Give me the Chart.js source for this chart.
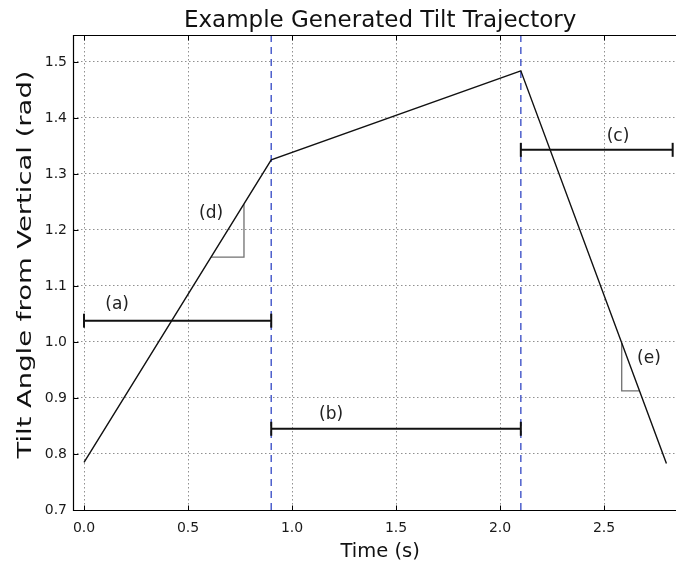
<!DOCTYPE html>
<html><head><meta charset="utf-8">
<script src="https://cdn.jsdelivr.net/npm/chart.js@4/dist/chart.umd.min.js"></script>
<style>html,body{margin:0;padding:0;background:#fff}canvas{display:block}</style>
</head><body><canvas id="c" width="676" height="563"></canvas>
<script>
// ---- data ----
const times = [0.0, 0.9, 2.1, 2.8];
const tilt = [0.785, 1.325, 1.484, 0.783];
const phaseBoundaries = [0.9, 2.1];
const xTicks = [0.0, 0.5, 1.0, 1.5, 2.0, 2.5];
const yTicks = [0.7, 0.8, 0.9, 1.0, 1.1, 1.2, 1.3, 1.4, 1.5];
const xFullRange = [-0.053, 2.9];   // axes extend past the picture's right edge
const xVisibleMax = 2.846;
const yRange = [0.7, 1.548];
const intervalLabels = ['(a)', '(b)', '(c)'];
const intervalStart = [0.0, 0.9, 2.1];
const intervalEnd = [0.9, 2.1, 2.83];
const intervalLevel = [1.038, 0.845, 1.343];
const intervalLabelX = [0.159, 1.188, 2.567];
const intervalLabelY = [1.066, 0.870, 1.366];
const slopeLabels = ['(d)', '(e)'];
const slopeTriX = [[0.611, 0.769, 0.769], [2.585, 2.585, 2.67]];
const slopeTriY = [[1.1516, 1.1516, 1.246], [0.998, 0.9125, 0.9125]];
const slopeLabelX = [0.611, 2.716];
const slopeLabelY = [1.230, 0.970];
const titleText = 'Example Generated Tilt Trajectory';
const xTitleText = 'Time (s)';
const yTitleText = 'Tilt Angle from Vertical (rad)';

const FONT = "'DejaVu Sans', sans-serif";
const datasets = [];

phaseBoundaries.forEach(b => datasets.push({
  data: [{x: b, y: yRange[0]}, {x: b, y: yRange[1]}],
  showLine: true, borderColor: '#4d5fcc', borderWidth: 1.5, borderDash: [7, 5],
  pointRadius: 0, order: 5
}));
slopeTriX.forEach((xs, i) => datasets.push({
  data: xs.map((x, j) => ({x, y: slopeTriY[i][j]})),
  showLine: true, borderColor: '#707070', borderWidth: 1.3,
  pointRadius: 0, order: 4
}));
intervalStart.forEach((s, i) => datasets.push({
  data: [{x: s, y: intervalLevel[i]}, {x: intervalEnd[i], y: intervalLevel[i]}],
  showLine: true, borderColor: '#111', borderWidth: 2,
  pointStyle: 'line', pointRotation: 90, pointRadius: 7,
  pointBorderColor: '#111', pointBorderWidth: 2, order: 3
}));
datasets.push({
  data: times.map((t, i) => ({x: t, y: tilt[i]})),
  showLine: true, borderColor: '#111', borderWidth: 1.4,
  pointRadius: 0, order: 1
});

const annotPlugin = {
  id: 'annot',
  afterDatasetsDraw(chart) {
    const {ctx, chartArea: a, scales: {x, y}} = chart;
    ctx.save();
    // frame (left, top, bottom; right edge lies outside the picture)
    const L = Math.round(a.left) + 0.5, T = Math.round(a.top) + 0.5, B = Math.round(a.bottom) + 0.5, R = a.right + 2;
    ctx.strokeStyle = '#000';
    ctx.lineWidth = 1.2;
    ctx.beginPath();
    ctx.moveTo(R, T); ctx.lineTo(L, T); ctx.lineTo(L, B); ctx.lineTo(R, B);
    ctx.stroke();
    // inward ticks
    ctx.lineWidth = 1;
    ctx.beginPath();
    yTicks.forEach(v => { const p = Math.round(y.getPixelForValue(v)) + 0.5; ctx.moveTo(L, p); ctx.lineTo(L + 5, p); });
    xTicks.forEach(v => { const p = Math.round(x.getPixelForValue(v)) + 0.5; ctx.moveTo(p, B); ctx.lineTo(p, B - 5); ctx.moveTo(p, T); ctx.lineTo(p, T + 5); });
    ctx.stroke();
    // annotation labels
    ctx.fillStyle = '#222';
    ctx.font = '17px ' + FONT;
    ctx.textAlign = 'center';
    ctx.textBaseline = 'middle';
    intervalLabels.forEach((t, i) => ctx.fillText(t, x.getPixelForValue(intervalLabelX[i]), y.getPixelForValue(intervalLabelY[i])));
    slopeLabels.forEach((t, i) => ctx.fillText(t, x.getPixelForValue(slopeLabelX[i]), y.getPixelForValue(slopeLabelY[i])));
    // titles, centred on the full axes extent
    const cx = (x.getPixelForValue(xFullRange[0]) + x.getPixelForValue(xFullRange[1])) / 2;
    ctx.fillStyle = '#111';
    ctx.textBaseline = 'alphabetic';
    ctx.font = '23px ' + FONT;
    ctx.fillText(titleText, cx, 27);
    ctx.font = '19.5px ' + FONT;
    ctx.fillText(xTitleText, cx, 557);
    // y title
    ctx.font = '20px ' + FONT;
    const w = ctx.measureText(yTitleText).width;
    ctx.translate(31, (a.top + a.bottom) / 2 - 8);
    ctx.rotate(-Math.PI / 2);
    ctx.scale(388 / w, 1);
    ctx.fillText(yTitleText, 0, 0);
    ctx.restore();
  }
};

new Chart(document.getElementById('c'), {
  type: 'scatter',
  data: {datasets},
  plugins: [annotPlugin],
  options: {
    responsive: false, animation: false, devicePixelRatio: 1,
    layout: {autoPadding: false, padding: {left: 0, right: 0, top: 35, bottom: 0}},
    plugins: {legend: {display: false}, tooltip: {enabled: false}, title: {display: false}},
    scales: {
      x: {
        type: 'linear', min: xFullRange[0], max: xVisibleMax,
        afterFit(s) { s.height = 53; s.paddingLeft = 0; s.paddingRight = 0; },
        afterBuildTicks(s) { s.ticks = xTicks.map(v => ({value: v})); },
        ticks: {font: {family: FONT, size: 14}, color: '#1a1a1a', padding: 10, maxRotation: 0,
          callback: v => v.toFixed(1)},
        grid: {color: 'rgba(0,0,0,0.55)', lineWidth: 0.8, drawTicks: false, tickLength: 0},
        border: {display: false, dash: [1.5, 2.5]}
      },
      y: {
        type: 'linear', min: yRange[0], max: yRange[1],
        afterFit(s) { s.width = 73; s.paddingTop = 0; s.paddingBottom = 0; },
        afterBuildTicks(s) { s.ticks = yTicks.map(v => ({value: v})); },
        ticks: {font: {family: FONT, size: 14}, color: '#1a1a1a', padding: 6,
          callback: v => v.toFixed(1)},
        grid: {color: 'rgba(0,0,0,0.55)', lineWidth: 0.8, drawTicks: false, tickLength: 0},
        border: {display: false, dash: [1.5, 2.5]}
      }
    }
  }
});
</script></body></html>
